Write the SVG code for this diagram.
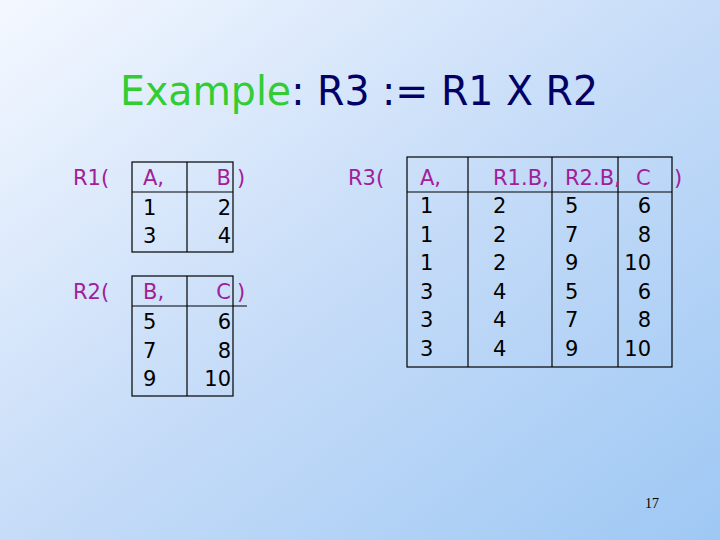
<svg xmlns="http://www.w3.org/2000/svg" width="720" height="540" viewBox="0 0 720 540">
<defs>
<linearGradient id="bg" x1="0" y1="0" x2="1" y2="1">
<stop offset="0" stop-color="#f4f8ff"/>
<stop offset="0.5" stop-color="#c6dcf8"/>
<stop offset="1" stop-color="#9ec8f4"/>
</linearGradient>
<style>
.t{font-family:"DejaVu Sans",Verdana,sans-serif;font-size:21px;fill:#000}
.h{fill:#a0209a}
.b{fill:none;stroke:#000;stroke-width:1.2}
</style>
</defs>
<rect width="720" height="540" fill="url(#bg)"/>
<text x="120" y="105" font-family="DejaVu Sans,Verdana,sans-serif" font-size="40" textLength="478" lengthAdjust="spacingAndGlyphs" fill="#000066"><tspan fill="#33cc33">Example</tspan>: R3 := R1 X R2</text>
<g id="R1">
<text class="t h" x="73" y="185">R1(</text>
<rect class="b" x="132" y="162" width="101" height="90"/>
<line class="b" x1="187" y1="162" x2="187" y2="252"/>
<line class="b" x1="132" y1="192" x2="233" y2="192"/>
<text class="t h" x="143" y="185">A,</text>
<text class="t h" x="231" y="185" text-anchor="end">B</text>
<text class="t h" x="237" y="185">)</text>
<text class="t" x="143" y="215">1</text><text class="t" x="231" y="215" text-anchor="end">2</text>
<text class="t" x="143" y="243">3</text><text class="t" x="231" y="243" text-anchor="end">4</text>
</g>
<g id="R2">
<text class="t h" x="73" y="299">R2(</text>
<rect class="b" x="132" y="276" width="101" height="120"/>
<line class="b" x1="187" y1="276" x2="187" y2="396"/>
<line class="b" x1="132" y1="306" x2="247" y2="306"/>
<text class="t h" x="143" y="299">B,</text>
<text class="t h" x="231" y="299" text-anchor="end">C</text>
<text class="t h" x="237" y="299">)</text>
<text class="t" x="143" y="329">5</text><text class="t" x="231" y="329" text-anchor="end">6</text>
<text class="t" x="143" y="358">7</text><text class="t" x="231" y="358" text-anchor="end">8</text>
<text class="t" x="143" y="386">9</text><text class="t" x="231" y="386" text-anchor="end">10</text>
</g>
<g id="R3">
<text class="t h" x="348" y="185">R3(</text>
<rect class="b" x="407" y="157" width="265" height="210"/>
<line class="b" x1="468" y1="157" x2="468" y2="367"/>
<line class="b" x1="552" y1="157" x2="552" y2="367"/>
<line class="b" x1="618" y1="157" x2="618" y2="367"/>
<line class="b" x1="407" y1="192" x2="672" y2="192"/>
<text class="t h" x="420" y="185">A,</text>
<text class="t h" x="493" y="185">R1.B,</text>
<text class="t h" x="565" y="185">R2.B,</text>
<text class="t h" x="636" y="185">C</text>
<text class="t h" x="674" y="185">)</text>
<g class="t">
<text x="420" y="213">1</text><text x="493" y="213">2</text><text x="565" y="213">5</text><text x="651" y="213" text-anchor="end">6</text>
<text x="420" y="242">1</text><text x="493" y="242">2</text><text x="565" y="242">7</text><text x="651" y="242" text-anchor="end">8</text>
<text x="420" y="270">1</text><text x="493" y="270">2</text><text x="565" y="270">9</text><text x="651" y="270" text-anchor="end">10</text>
<text x="420" y="299">3</text><text x="493" y="299">4</text><text x="565" y="299">5</text><text x="651" y="299" text-anchor="end">6</text>
<text x="420" y="327">3</text><text x="493" y="327">4</text><text x="565" y="327">7</text><text x="651" y="327" text-anchor="end">8</text>
<text x="420" y="356">3</text><text x="493" y="356">4</text><text x="565" y="356">9</text><text x="651" y="356" text-anchor="end">10</text>
</g>
</g>
<text x="652" y="508" text-anchor="middle" font-family="Liberation Serif,serif" font-size="14" fill="#000">17</text>
</svg>
